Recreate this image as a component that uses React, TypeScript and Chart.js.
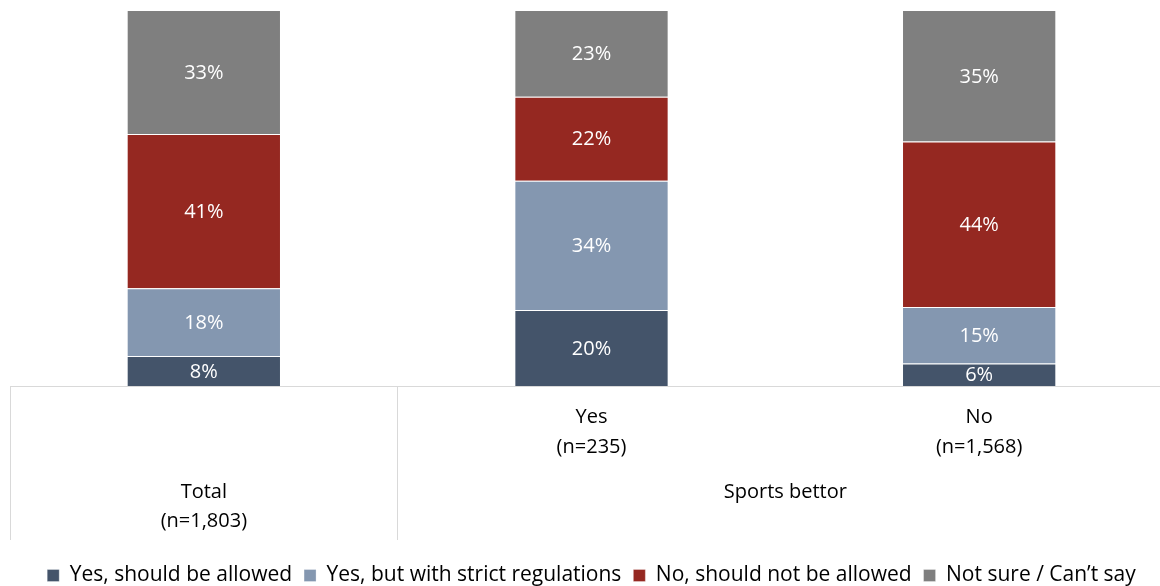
import React, { useEffect, useRef } from 'react';
import { Chart, registerables } from 'chart.js';

Chart.register(...registerables);

const categories = ['Total', 'Yes', 'No'];
const sampleSizes = ['(n=1,803)', '(n=235)', '(n=1,568)'];
const groupLabel = 'Sports bettor';
const seriesNames = [
  'Yes, should be allowed',
  'Yes, but with strict regulations',
  'No, should not be allowed',
  'Not sure / Can\u2019t say',
];
const yesAllowed = [8, 20.2, 6];
const yesStrict = [18, 34.4, 15];
const noNotAllowed = [41, 22.3, 44];
const notSure = [33, 23.1, 35];
const seriesColors = ['#44546A', '#8497B0', '#952821', '#7F7F7F'];

const FONT = "'Open Sans', 'DejaVu Sans', sans-serif";

const dataLabelPlugin = {
  id: 'dataLabels',
  afterDatasetsDraw(chart: any) {
    const ctx = chart.ctx;
    ctx.save();
    ctx.font = `20px ${FONT}`;
    ctx.fillStyle = '#FFFFFF';
    ctx.textAlign = 'center';
    ctx.textBaseline = 'middle';
    chart.data.datasets.forEach((ds: any, di: number) => {
      const meta = chart.getDatasetMeta(di);
      meta.data.forEach((el: any, i: number) => {
        const v = ds.data[i];
        const yc = (el.y + el.base) / 2;
        ctx.fillText(`${Math.round(v)}%`, el.x, yc + 1);
      });
    });
    ctx.restore();
  },
};

const categoryAxisPlugin = {
  id: 'categoryAxis',
  afterDraw(chart: any) {
    const ctx = chart.ctx;
    const x = chart.scales.x;
    const area = chart.chartArea;
    const top = area.bottom;
    const bottom = top + 154;
    const p0 = x.getPixelForValue(0);
    const p1 = x.getPixelForValue(1);
    const p2 = x.getPixelForValue(2);
    const half = (p1 - p0) / 2;
    ctx.save();
    ctx.strokeStyle = '#D9D9D9';
    ctx.lineWidth = 1;
    ctx.beginPath();
    ctx.moveTo(Math.round(area.left) + 0.5, top);
    ctx.lineTo(Math.round(area.left) + 0.5, bottom);
    ctx.moveTo(Math.floor(p0 + half) + 0.5, top);
    ctx.lineTo(Math.floor(p0 + half) + 0.5, bottom);
    ctx.stroke();

    ctx.font = `20px ${FONT}`;
    ctx.fillStyle = '#000000';
    ctx.textAlign = 'center';
    ctx.textBaseline = 'middle';
    // inner level
    [1, 2].forEach((i) => {
      const px = x.getPixelForValue(i);
      ctx.fillText(categories[i], px, top + 31);
      ctx.fillText(sampleSizes[i], px, top + 61);
    });
    // outer level
    ctx.fillText(categories[0], p0, top + 106);
    ctx.fillText(sampleSizes[0], p0, top + 135);
    ctx.fillText(groupLabel, (p1 + p2) / 2, top + 106);
    ctx.restore();
  },
};

export default function App() {
  const ref = useRef<HTMLCanvasElement>(null);
  useEffect(() => {
    document.body.style.margin = '0';
    document.body.style.overflow = 'hidden';
    const chart = new Chart(ref.current as HTMLCanvasElement, {
      type: 'bar',
      data: {
        labels: categories,
        datasets: [yesAllowed, yesStrict, noNotAllowed, notSure].map((d, i) => ({
          label: seriesNames[i],
          data: d,
          backgroundColor: seriesColors[i],
          borderColor: 'rgba(255,255,255,0.3)',
          borderWidth: 1,
          barPercentage: 0.398,
          categoryPercentage: 1,
        })),
      },
      options: {
        animation: false,
        responsive: false,
        maintainAspectRatio: false,
        layout: { padding: { left: 10, right: 3, top: 10, bottom: -10 } },
        plugins: {
          legend: {
            position: 'bottom',
            labels: {
              font: { family: FONT, size: 21 },
              color: '#000000',
              boxWidth: 12,
              boxHeight: 12,
              padding: 12,
            },
          },
          tooltip: { enabled: false },
        },
        scales: {
          x: {
            stacked: true,
            grid: { display: false },
            border: { color: '#D9D9D9', width: 1 },
            ticks: { display: false },
            afterFit(scale: any) {
              scale.height = 167;
            },
          },
          y: {
            stacked: true,
            min: 0,
            max: 100,
            display: false,
          },
        },
      },
      plugins: [dataLabelPlugin, categoryAxisPlugin],
    });
    return () => chart.destroy();
  }, []);
  return (
    <div style={{ position: 'fixed', left: 0, top: 0, width: 1176, height: 586 }}>
      <canvas ref={ref} width={1176} height={586} style={{ width: 1176, height: 586 }} />
    </div>
  );
}
